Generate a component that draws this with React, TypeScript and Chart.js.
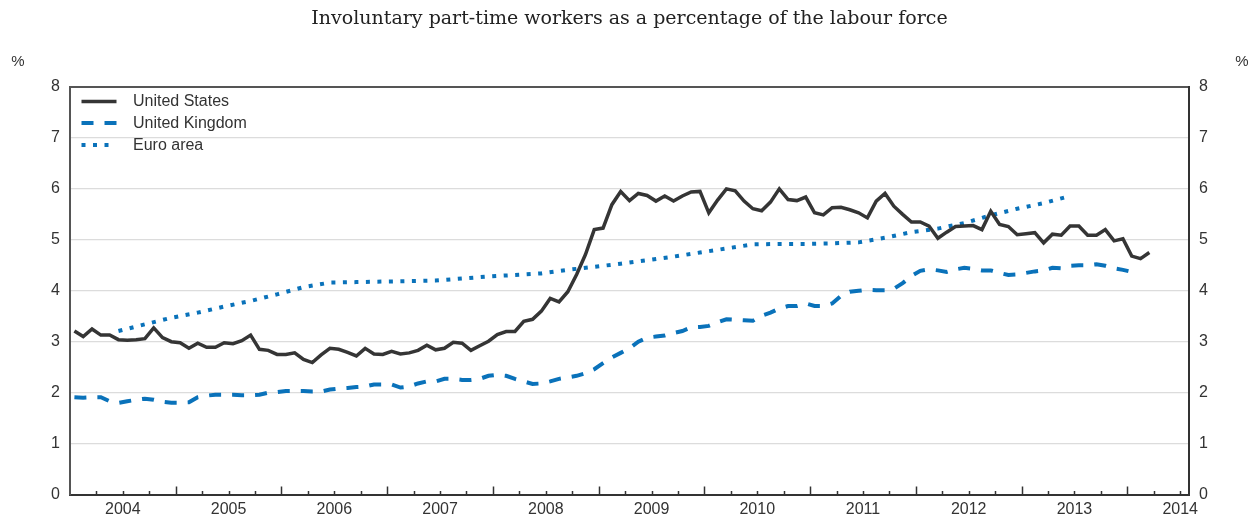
import React, { useEffect, useRef } from 'react';
import { Chart, registerables } from 'chart.js';

Chart.register(...registerables);

// ---------- data ----------
const subtitle = 'Involuntary part-time workers as a percentage of the labour force';
const seriesNames = ['United States', 'United Kingdom', 'Euro area'];
const yearLabels = ['2004', '2005', '2006', '2007', '2008', '2009', '2010', '2011', '2012', '2013', '2014'];
const yTickValues = [0, 1, 2, 3, 4, 5, 6, 7, 8];

// monthly, starting January 2004
const usValues = [
  3.21, 3.10, 3.25, 3.13, 3.13, 3.04, 3.03, 3.04, 3.06, 3.27, 3.08, 3.00,
  2.98, 2.87, 2.97, 2.89, 2.89, 2.98, 2.96, 3.02, 3.13, 2.85, 2.83, 2.75,
  2.75, 2.78, 2.65, 2.59, 2.74, 2.87, 2.85, 2.79, 2.72, 2.87, 2.76, 2.75,
  2.81, 2.76, 2.78, 2.83, 2.93, 2.84, 2.87, 2.99, 2.97, 2.83, 2.92, 3.01,
  3.14, 3.20, 3.20, 3.40, 3.44, 3.60, 3.85, 3.78, 3.98, 4.32, 4.71, 5.20,
  5.23, 5.69, 5.95, 5.77, 5.91, 5.87, 5.76, 5.86, 5.76, 5.86, 5.94, 5.95,
  5.53, 5.78, 6.00, 5.96, 5.76, 5.61, 5.57, 5.74, 6.00, 5.79, 5.77, 5.84,
  5.53, 5.49, 5.63, 5.64, 5.59, 5.53, 5.43, 5.76, 5.91, 5.66, 5.50, 5.35,
  5.35, 5.27, 5.03, 5.15, 5.26, 5.27, 5.28, 5.20, 5.56, 5.30, 5.26, 5.10,
  5.12, 5.14, 4.94, 5.11, 5.09, 5.27, 5.27, 5.09, 5.09, 5.20, 4.98, 5.02,
  4.68, 4.63, 4.75,
];

// monthly, starting January 2004
const ukValues = [
  1.91, 1.90, 1.91, 1.91, 1.83, 1.80, 1.83, 1.86, 1.88, 1.86, 1.82, 1.80,
  1.80, 1.81, 1.91, 1.94, 1.96, 1.96, 1.96, 1.95, 1.95, 1.96, 2.00, 2.01,
  2.03, 2.03, 2.03, 2.02, 2.02, 2.06, 2.08, 2.09, 2.11, 2.12, 2.16, 2.16,
  2.16, 2.10, 2.12, 2.18, 2.22, 2.22, 2.27, 2.27, 2.25, 2.25, 2.27, 2.33,
  2.35, 2.33, 2.27, 2.22, 2.17, 2.18, 2.22, 2.27, 2.30, 2.33, 2.38, 2.46,
  2.58, 2.69, 2.78, 2.87, 3.00, 3.08, 3.10, 3.12, 3.17, 3.21, 3.28, 3.29,
  3.31, 3.38, 3.44, 3.43, 3.42, 3.41, 3.51, 3.57, 3.65, 3.70, 3.70, 3.75,
  3.70, 3.70, 3.75, 3.90, 3.98, 4.00, 4.02, 4.01, 4.01, 4.04, 4.15, 4.29,
  4.39, 4.42, 4.40, 4.37, 4.42, 4.45, 4.43, 4.40, 4.40, 4.35, 4.31, 4.32,
  4.35, 4.38, 4.40, 4.45, 4.44, 4.49, 4.50, 4.50, 4.52, 4.49, 4.44, 4.41,
  4.37,
];

// quarterly (quarter end), starting Q2 2004
const euroValues = [
  3.21, 3.34, 3.47, 3.57, 3.69, 3.80, 3.93, 4.07, 4.16, 4.17, 4.18, 4.19,
  4.20, 4.24, 4.28, 4.31, 4.34, 4.41, 4.47, 4.53, 4.60, 4.67, 4.75, 4.83,
  4.91, 4.92, 4.92, 4.93, 4.95, 5.04, 5.15, 5.22, 5.33, 5.48, 5.61, 5.72,
  5.86,
];

const EURO_FIRST_MONTH = 5; // June 2004
const X_MAX_MONTHS = 127;

const TEXT_COLOR = '#333333';
const US_COLOR = '#353535';
const BLUE = '#0a72ba';
const AXIS_FONT = '"Liberation Sans", Arial, Helvetica, sans-serif';

const framePlugin = {
  id: 'frameExtras',
  afterDatasetsDraw(chart: any) {
    const { ctx, chartArea, scales } = chart;
    const xs = scales.x;
    ctx.save();
    // inward tick marks on the time axis
    ctx.strokeStyle = '#333333';
    ctx.lineWidth = 1.5;
    for (let v = 3; v <= X_MAX_MONTHS; v += 3) {
      const px = Math.round(xs.getPixelForValue(v)) + 0.5;
      const len = v % 12 === 0 ? 8 : 3.5;
      ctx.beginPath();
      ctx.moveTo(px, chartArea.bottom);
      ctx.lineTo(px, chartArea.bottom - len);
      ctx.stroke();
    }
    // % unit labels
    ctx.fillStyle = TEXT_COLOR;
    ctx.font = `15px ${AXIS_FONT}`;
    ctx.textAlign = 'center';
    ctx.textBaseline = 'middle';
    ctx.fillText('%', 18, 62);
    ctx.fillText('%', 1242, 62);

    // legend inside the plot
    const rows = [101.5, 123, 145];
    const legendEnds = [116.5, 116.5, 112];
    chart.data.datasets.forEach((ds: any, i: number) => {
      const y = rows[i];
      ctx.save();
      ctx.strokeStyle = ds.borderColor;
      ctx.lineWidth = ds.borderWidth;
      ctx.setLineDash(ds.borderDash || []);
      ctx.lineCap = 'butt';
      ctx.beginPath();
      ctx.moveTo(81.5, y);
      ctx.lineTo(legendEnds[i], y);
      ctx.stroke();
      ctx.restore();
      ctx.fillStyle = TEXT_COLOR;
      ctx.font = `16px ${AXIS_FONT}`;
      ctx.textAlign = 'left';
      ctx.textBaseline = 'middle';
      ctx.fillText(ds.label, 133, y + 0.5);
    });
    ctx.restore();
  },
};

export default function App() {
  const canvasRef = useRef<HTMLCanvasElement | null>(null);

  useEffect(() => {
    if (!canvasRef.current) return;
    const usData = usValues.map((v, i) => ({ x: i + 0.5, y: v }));
    const ukData = ukValues.map((v, i) => ({ x: i + 0.5, y: v }));
    const euroData = euroValues.map((v, k) => ({ x: EURO_FIRST_MONTH + 3 * k + 0.5, y: v }));

    const quarterTicks: number[] = [];
    for (let v = 0; v <= X_MAX_MONTHS; v += 3) quarterTicks.push(v);

    const chart = new Chart(canvasRef.current, {
      type: 'line',
      data: {
        datasets: [
          {
            label: seriesNames[0],
            data: usData,
            borderColor: US_COLOR,
            backgroundColor: US_COLOR,
            borderWidth: 3.5,
            pointRadius: 0,
            tension: 0,
            borderJoinStyle: 'miter',
          },
          {
            label: seriesNames[1],
            data: ukData,
            borderColor: BLUE,
            backgroundColor: BLUE,
            borderWidth: 4,
            borderDash: [12, 11],
            pointRadius: 0,
            tension: 0,
          },
          {
            label: seriesNames[2],
            data: euroData,
            borderColor: BLUE,
            backgroundColor: BLUE,
            borderWidth: 4,
            borderDash: [4, 7.5],
            pointRadius: 0,
            tension: 0,
          },
        ],
      },
      options: {
        animation: false,
        responsive: false,
        devicePixelRatio: 1,
        layout: { padding: 0 },
        plugins: {
          legend: { display: false },
          tooltip: { enabled: false },
          title: {
            display: true,
            text: subtitle,
            color: '#222222',
            font: { family: '"DejaVu Serif", serif', size: 19, weight: 'normal', lineHeight: 1.2 },
            padding: { top: 8, bottom: 56.2 },
          },
        },
        scales: {
          x: {
            type: 'linear',
            min: 0,
            max: X_MAX_MONTHS,
            afterBuildTicks: (scale: any) => {
              scale.ticks = quarterTicks.map((v) => ({ value: v }));
            },
            afterFit: (scale: any) => {
              scale.height = 20.5;
            },
            ticks: {
              autoSkip: false,
              maxRotation: 0,
              minRotation: 0,
              padding: 5,
              color: TEXT_COLOR,
              font: { family: AXIS_FONT, size: 16 },
              callback: (v: any) => {
                const n = Number(v);
                return n % 12 === 6 ? yearLabels[(n - 6) / 12] : '';
              },
            },
            grid: { display: false, drawTicks: false, tickLength: 0 },
            border: { display: true, color: '#333333', width: 2 },
          },
          y: {
            position: 'left',
            min: 0,
            max: 8,
            afterBuildTicks: (scale: any) => {
              scale.ticks = yTickValues.map((v) => ({ value: v }));
            },
            afterFit: (scale: any) => {
              scale.width = 70;
            },
            ticks: {
              padding: 10,
              color: TEXT_COLOR,
              font: { family: AXIS_FONT, size: 16 },
            },
            grid: {
              drawTicks: false,
              tickLength: 0,
              color: (c: any) => (c.tick && c.tick.value === 8 ? '#555555' : c.tick && c.tick.value === 0 ? 'rgba(0,0,0,0)' : '#dcdcdc'),
              lineWidth: (c: any) => (c.tick && c.tick.value === 8 ? 2 : 1.2),
            },
            border: { display: true, color: '#555555', width: 2 },
          },
          y2: {
            position: 'right',
            min: 0,
            max: 8,
            afterBuildTicks: (scale: any) => {
              scale.ticks = yTickValues.map((v) => ({ value: v }));
            },
            afterFit: (scale: any) => {
              scale.width = 70;
            },
            ticks: {
              padding: 10,
              color: TEXT_COLOR,
              font: { family: AXIS_FONT, size: 16 },
            },
            grid: { display: false, drawTicks: false, tickLength: 0 },
            border: { display: true, color: '#333333', width: 2 },
          },
        },
      } as any,
      plugins: [framePlugin],
    });
    return () => chart.destroy();
  }, []);

  return (
    <div style={{ position: 'fixed', left: 0, top: 0, width: 1259, height: 515, background: '#ffffff' }}>
      <canvas ref={canvasRef} width={1259} height={515} style={{ display: 'block', width: 1259, height: 515 }} />
    </div>
  );
}
